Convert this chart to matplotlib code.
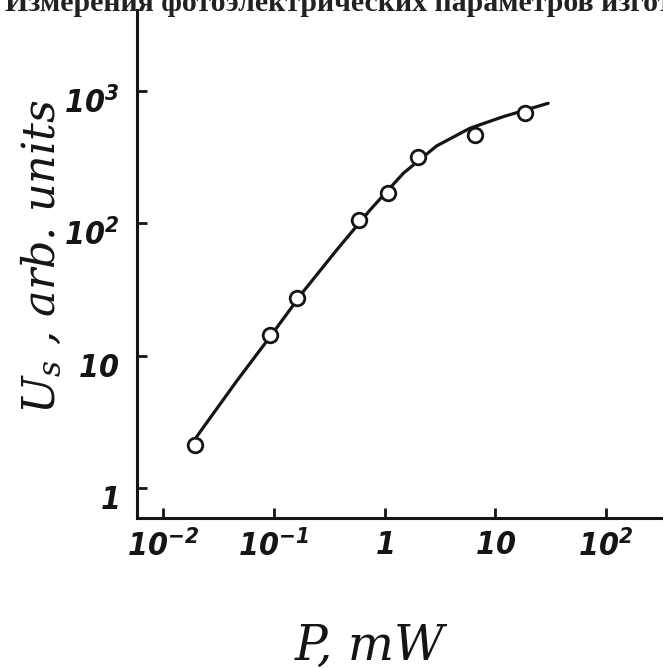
import matplotlib
matplotlib.use("Agg")
import matplotlib.pyplot as plt
from matplotlib import font_manager
from matplotlib.ticker import FixedLocator, FixedFormatter, NullLocator
from matplotlib.transforms import ScaledTranslation

# ---- data ----
power_mw = [0.0195, 0.0925, 0.162, 0.587, 1.07, 2.0, 6.5, 18.5]
signal_us = [2.11, 14.3, 27.3, 106, 170, 318, 466, 683]

curve_p = [0.0201, 0.0463, 0.0925, 0.1845, 0.370, 0.738, 1.475, 2.95, 5.9, 11.8, 30]
curve_u = [2.44, 6.44, 13.9, 30.5, 63, 126, 239, 385, 524, 641, 809]

x_ticks = [0.01, 0.1, 1, 10, 100]
x_tick_labels = [r"$10^{-2}$", r"$10^{-1}$", r"$1$", r"$10$", r"$10^{2}$"]
y_ticks = [1, 10, 100, 1000]
y_tick_labels = [r"$1$", r"$10$", r"$10^{2}$", r"$10^{3}$"]

title_text = "Измерения фотоэлектрических параметров изготовленных"
x_label = "P, mW"
y_label = r"$\mathregular{U_s}$ , arb. units"

# pick a narrow italic font for the hand-drawn digits
names = {f.name for f in font_manager.fontManager.ttflist}
condensed = any(f.name == "DejaVu Sans" and f.stretch in ("condensed", 87.5, 75)
                for f in font_manager.fontManager.ttflist)
if "Liberation Sans Narrow" in names:
    digit_font = "Liberation Sans Narrow:italic:bold"
    tick_size = 25
elif condensed:
    digit_font = "DejaVu Sans:italic:bold:stretch=condensed"
    tick_size = 23
else:
    digit_font = "Liberation Sans:italic:bold"
    tick_size = 22

plt.rcParams["mathtext.fontset"] = "custom"
plt.rcParams["mathtext.rm"] = digit_font
plt.rcParams["mathtext.it"] = digit_font
plt.rcParams["mathtext.bf"] = digit_font

W, H = 663, 668
fig = plt.figure(figsize=(W / 100, H / 100), dpi=100)
ax = fig.add_axes([137 / W, 1 - 518 / H, (W - 137) / W, (518 - 10) / H])

ink = "#151515"
ax.plot(curve_p, curve_u, color=ink, lw=2.3, zorder=2, solid_capstyle="round")
ax.plot(power_mw, signal_us, ls="none", marker="o", ms=10.5, mfc="white",
        mec=ink, mew=2.0, zorder=3)

ax.set_xscale("log")
ax.set_yscale("log")
ax.set_xlim(10 ** -2.235, 10 ** 2.514)
ax.set_ylim(10 ** -0.2268, 10 ** 3.613)

for s in ["top", "right"]:
    ax.spines[s].set_visible(False)
for s in ["left", "bottom"]:
    ax.spines[s].set_linewidth(2.2)
    ax.spines[s].set_color(ink)

ax.xaxis.set_major_locator(FixedLocator(x_ticks))
ax.xaxis.set_major_formatter(FixedFormatter(x_tick_labels))
ax.yaxis.set_major_locator(FixedLocator(y_ticks))
ax.yaxis.set_major_formatter(FixedFormatter(y_tick_labels))
ax.xaxis.set_minor_locator(NullLocator())
ax.yaxis.set_minor_locator(NullLocator())
ax.tick_params(axis="both", direction="in", length=7, width=2, color=ink,
               labelsize=tick_size, labelcolor=ink)
ax.tick_params(axis="x", pad=9)
ax.tick_params(axis="y", pad=13)

# hand-drawn y labels sit a little below their ticks
shift = ScaledTranslation(0, -9 / 100, fig.dpi_scale_trans)
for lab in ax.get_yticklabels():
    lab.set_transform(lab.get_transform() + shift)

fig.text(370 / W, 1 - 646 / H, x_label, ha="center", va="center",
         fontsize=35, style="italic", family="DejaVu Serif", color=ink)
fig.text(42 / W, 1 - 257 / H, y_label, ha="center", va="center", rotation=90,
         fontsize=32, style="italic", family="DejaVu Serif", color=ink)

fig.text(0.008, 1 - 11 / H, title_text, ha="left", va="baseline",
         fontsize=21.5, fontweight="bold", family="Liberation Serif", color="#222222")

fig.savefig("out.png", dpi=100)
